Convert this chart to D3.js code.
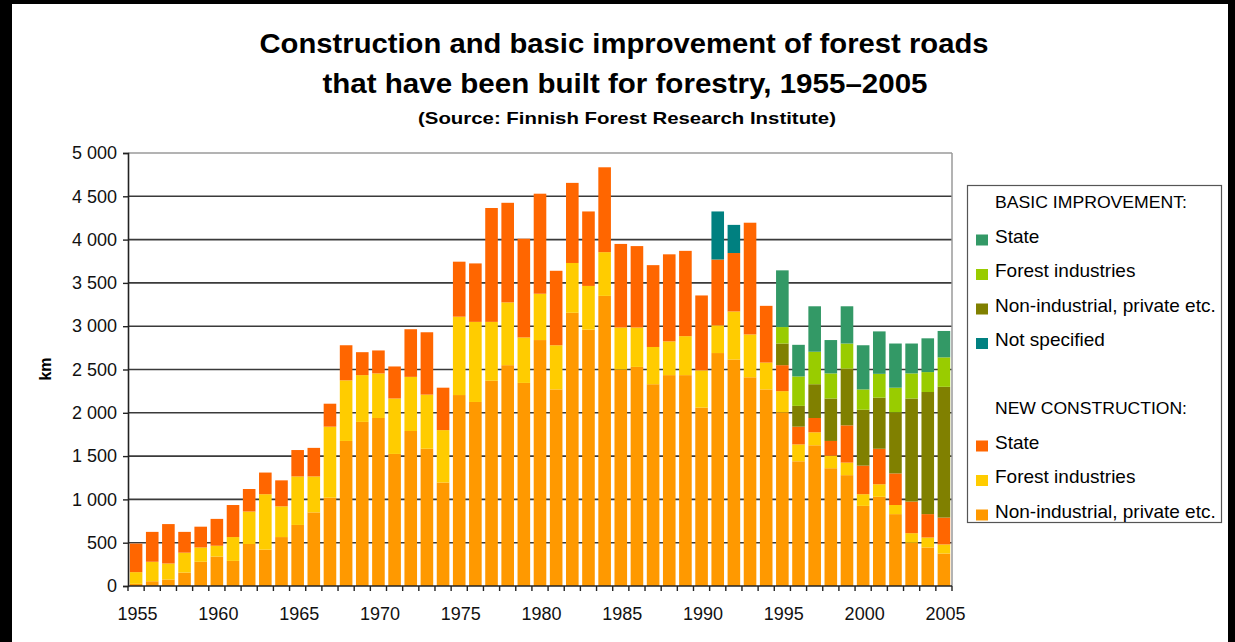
<!DOCTYPE html>
<html>
<head>
<meta charset="utf-8">
<script src="https://cdn.jsdelivr.net/npm/d3@7"></script>
<style>
  html, body { margin: 0; padding: 0; background: #000; }
  svg { display: block; font-family: "Liberation Sans", Arial, sans-serif; }
</style>
</head>
<body>
<svg id="chart" width="1235" height="642"></svg>
<script>
// Forest road construction and basic improvement in Finland, km per year
const years = d3.range(1955, 2006);

// New construction
const ncPrivate = [25, 55, 75, 155, 280, 340, 290, 485, 420, 565, 705, 850, 1020, 1675, 1895, 1940, 1525, 1790, 1585, 1195,
  2205, 2125, 2370, 2550, 2345, 2840, 2270, 3155, 2960, 3350, 2500, 2530, 2330, 2435, 2435, 2060, 2690, 2615, 2410, 2270,
  2005, 1440, 1625, 1360, 1280, 925, 1030, 830, 500, 445, 375];
const ncIndustry = [135, 225, 185, 230, 165, 125, 275, 375, 640, 355, 560, 415, 820, 700, 540, 515, 640, 625, 625, 605,
  905, 925, 680, 725, 525, 535, 510, 575, 505, 505, 485, 455, 430, 390, 450, 430, 320, 555, 495, 310,
  245, 195, 150, 145, 145, 135, 145, 105, 110, 115, 105];
const ncState = [330, 345, 455, 240, 240, 310, 370, 260, 250, 300, 305, 330, 265, 405, 265, 265, 370, 550, 720, 490,
  635, 675, 1315, 1150, 1140, 1155, 860, 925, 860, 980, 965, 940, 945, 1005, 985, 865, 760, 675, 1290, 655,
  300, 205, 165, 170, 430, 330, 410, 365, 365, 270, 310];

// Basic improvement
const biUnspecified = [0, 0, 0, 0, 0, 0, 0, 0, 0, 0, 0, 0, 0, 0, 0, 0, 0, 0, 0, 0,
  0, 0, 0, 0, 0, 0, 0, 0, 0, 0, 0, 0, 0, 0, 0, 0, 555, 325, 0, 0,
  0, 0, 0, 0, 0, 0, 0, 0, 0, 0, 0];
const biPrivate = [0, 0, 0, 0, 0, 0, 0, 0, 0, 0, 0, 0, 0, 0, 0, 0, 0, 0, 0, 0,
  0, 0, 0, 0, 0, 0, 0, 0, 0, 0, 0, 0, 0, 0, 0, 0, 0, 0, 0, 0,
  250, 240, 390, 490, 655, 645, 590, 705, 1190, 1410, 1510];
const biIndustry = [0, 0, 0, 0, 0, 0, 0, 0, 0, 0, 0, 0, 0, 0, 0, 0, 0, 0, 0, 0,
  0, 0, 0, 0, 0, 0, 0, 0, 0, 0, 0, 0, 0, 0, 0, 0, 0, 0, 0, 0,
  190, 340, 375, 290, 290, 235, 275, 285, 290, 230, 340];
const biState = [0, 0, 0, 0, 0, 0, 0, 0, 0, 0, 0, 0, 0, 0, 0, 0, 0, 0, 0, 0,
  0, 0, 0, 0, 0, 0, 0, 0, 0, 0, 0, 0, 0, 0, 0, 0, 0, 0, 0, 0,
  655, 365, 525, 385, 430, 510, 490, 510, 345, 390, 305];

const yTicks = [0, 500, 1000, 1500, 2000, 2500, 3000, 3500, 4000, 4500, 5000];
const xLabelYears = [1955, 1960, 1965, 1970, 1975, 1980, 1985, 1990, 1995, 2000, 2005];

const titleLines = ["Construction and basic improvement of forest roads",
  "that have been built for forestry, 1955\u20132005"];
const subtitle = "(Source: Finnish Forest Research Institute)";

// Stack order, bottom to top
const seriesKeys = ["ncPrivate", "ncIndustry", "ncState", "biUnspecified", "biPrivate", "biIndustry", "biState"];
const seriesValues = { ncPrivate, ncIndustry, ncState, biUnspecified, biPrivate, biIndustry, biState };
const seriesColors = {
  ncPrivate: "#ff9900", ncIndustry: "#ffcc00", ncState: "#ff6600",
  biUnspecified: "#008080", biPrivate: "#808000", biIndustry: "#99cc00", biState: "#339966"
};

const legendGroups = [
  { header: "BASIC IMPROVEMENT:", items: [
    ["biState", "State"], ["biIndustry", "Forest industries"],
    ["biPrivate", "Non-industrial, private etc."], ["biUnspecified", "Not specified"]] },
  { header: "NEW CONSTRUCTION:", items: [
    ["ncState", "State"], ["ncIndustry", "Forest industries"],
    ["ncPrivate", "Non-industrial, private etc."]] }
];

const svg = d3.select("#chart");

// white page inside the dark frame
svg.append("rect").attr("x", 12).attr("y", 4).attr("width", 1216).attr("height", 638).attr("fill", "#fff");

const plot = { left: 128, right: 952, top: 153, bottom: 586 };

const x = d3.scaleBand().domain(years).range([plot.left, plot.right]).paddingInner(0.22).paddingOuter(0.11);
const y = d3.scaleLinear().domain([0, 5000]).range([plot.bottom, plot.top]);

// titles
const title = svg.append("g").attr("font-weight", "bold").attr("fill", "#000").attr("text-anchor", "middle");
title.append("text").attr("x", 624).attr("y", 53).attr("font-size", 27)
  .attr("textLength", 729).attr("lengthAdjust", "spacingAndGlyphs").text(titleLines[0]);
title.append("text").attr("x", 625).attr("y", 93).attr("font-size", 27)
  .attr("textLength", 605).attr("lengthAdjust", "spacingAndGlyphs").text(titleLines[1]);
title.append("text").attr("x", 627).attr("y", 124).attr("font-size", 17)
  .attr("textLength", 418).attr("lengthAdjust", "spacingAndGlyphs").text(subtitle);

// gridlines
svg.append("g").selectAll("line").data(yTicks.filter(d => d > 0)).join("line")
  .attr("x1", plot.left).attr("x2", plot.right)
  .attr("y1", d => y(d)).attr("y2", d => y(d))
  .attr("stroke", d => d === 5000 ? "#9a9a9a" : "#3a3a3a")
  .attr("stroke-width", 1.6);

// right border of plot area
svg.append("line").attr("x1", plot.right).attr("x2", plot.right)
  .attr("y1", plot.top).attr("y2", plot.bottom).attr("stroke", "#9a9a9a").attr("stroke-width", 1.5);

// stacked bars
const rows = years.map((yr, i) => {
  const r = { year: yr };
  seriesKeys.forEach(k => r[k] = seriesValues[k][i]);
  return r;
});
const stacked = d3.stack().keys(seriesKeys)(rows);

svg.append("g").selectAll("g").data(stacked).join("g")
  .attr("fill", d => seriesColors[d.key])
  .selectAll("rect").data(d => d.filter(p => p[1] > p[0])).join("rect")
  .attr("x", d => x(d.data.year))
  .attr("width", x.bandwidth())
  .attr("y", d => y(d[1]))
  .attr("height", d => y(d[0]) - y(d[1]));

// y axis
const fmt = d3.formatLocale({ decimal: ",", thousands: " ", grouping: [3], currency: ["", ""] }).format(",");
const yAxis = svg.append("g").attr("transform", `translate(${plot.left},0)`)
  .call(d3.axisLeft(y).tickValues(yTicks).tickSize(5).tickPadding(6).tickFormat(fmt));
yAxis.select(".domain").attr("stroke", "#222").attr("stroke-width", 1.6);
yAxis.selectAll(".tick line").attr("stroke", "#222").attr("stroke-width", 1.4);
yAxis.selectAll("text").attr("font-size", 18).attr("fill", "#111")
  .attr("font-family", "Liberation Sans, Arial, sans-serif");

// x axis: baseline, boundary ticks between years, labels every fifth year
const step = x.step();
const boundaries = d3.range(years.length + 1).map(i => plot.left + i * step);
svg.append("line").attr("x1", plot.left).attr("x2", plot.right)
  .attr("y1", plot.bottom).attr("y2", plot.bottom).attr("stroke", "#222").attr("stroke-width", 1.6);
svg.append("g").selectAll("line").data(boundaries).join("line")
  .attr("x1", d => d).attr("x2", d => d)
  .attr("y1", plot.bottom).attr("y2", plot.bottom + 5)
  .attr("stroke", "#222").attr("stroke-width", 1.4);

const xAxis = svg.append("g").attr("transform", `translate(1.5,${plot.bottom})`)
  .call(d3.axisBottom(x).tickValues(xLabelYears).tickSize(0).tickPadding(21));
xAxis.select(".domain").remove();
xAxis.selectAll("text").attr("font-size", 18).attr("fill", "#111")
  .attr("font-family", "Liberation Sans, Arial, sans-serif");

// y axis title
svg.append("text").attr("transform", "translate(51,369) rotate(-90)")
  .attr("text-anchor", "middle").attr("font-weight", "bold").attr("font-size", 16).text("km");

// legend
const legend = svg.append("g");
legend.append("rect").attr("x", 967.5).attr("y", 185.5).attr("width", 254).attr("height", 337)
  .attr("fill", "#fff").attr("stroke", "#555").attr("stroke-width", 1.2);

const rowH = 34.5;
let baseY = 208;
legendGroups.forEach((g, gi) => {
  legend.append("text").attr("x", 995).attr("y", baseY).attr("font-size", 17)
    .attr("textLength", 192).attr("lengthAdjust", "spacingAndGlyphs").text(g.header);
  g.items.forEach(([key, label], i) => {
    const by = baseY + (i + 1) * rowH;
    legend.append("rect").attr("x", 976).attr("y", by - 8).attr("width", 12).attr("height", 11)
      .attr("fill", seriesColors[key]);
    legend.append("text").attr("x", 995).attr("y", by).attr("font-size", 19).text(label);
  });
  baseY += (g.items.length + 2) * rowH - 1;
});
</script>
</body>
</html>
